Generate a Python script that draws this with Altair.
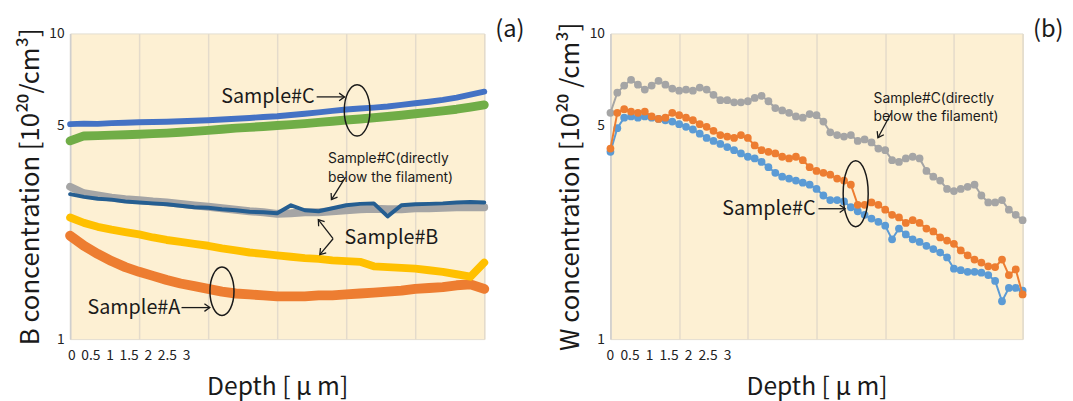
import altair as alt
import pandas as pd

FONT = "Noto Sans CJK JP"
NOTE_FONT = "Inter"
BG = "#FDF0D3"
GRID = "#E4DBCB"
INK = "#1a1a1a"

# ---------------- tick labels / axis values ----------------
x_grid_values = [0, 0.5, 1, 1.5, 2, 2.5, 3]
x_tick_values = [0, 0.5, 1, 1.5, 2, 2.5, 3]
x_tick_labels = ["0", "0.5", "1", "1.5", "2", "2.5", "3"]
y_tick_values = [1, 5, 10]

# ---------------- panel (a): B concentration ----------------
depth_a = [0.0, 0.1, 0.2, 0.3, 0.4, 0.5, 0.6, 0.7, 0.8, 0.9, 1.0, 1.1, 1.2, 1.3, 1.4,
           1.5, 1.6, 1.7, 1.8, 1.9, 2.0, 2.1, 2.2, 2.3, 2.4, 2.5, 2.6, 2.7, 2.8, 2.9, 3.0]
a_sampleC_blue = [5.05, 5.07, 5.06, 5.09, 5.10, 5.12, 5.13, 5.14, 5.16, 5.18, 5.20, 5.23, 5.26, 5.29, 5.33,
                  5.36, 5.41, 5.46, 5.52, 5.58, 5.64, 5.68, 5.72, 5.77, 5.84, 5.91, 5.98, 6.06, 6.17, 6.31, 6.45]
a_sampleC_green = [4.45, 4.62, 4.63, 4.65, 4.66, 4.68, 4.70, 4.72, 4.75, 4.78, 4.82, 4.86, 4.90, 4.93, 4.96,
                   5.00, 5.03, 5.07, 5.12, 5.16, 5.21, 5.25, 5.30, 5.35, 5.40, 5.46, 5.52, 5.58, 5.65, 5.74, 5.84]
a_filament_gray = [3.15, 3.00, 2.95, 2.90, 2.87, 2.85, 2.82, 2.80, 2.77, 2.74, 2.71, 2.68, 2.65, 2.62, 2.60,
                   2.57, 2.58, 2.60, 2.60, 2.62, 2.64, 2.66, 2.67, 2.66, 2.66, 2.68, 2.68, 2.69, 2.70, 2.70, 2.70]
a_filament_navy = [2.98, 2.92, 2.88, 2.86, 2.82, 2.80, 2.78, 2.76, 2.73, 2.70, 2.69, 2.66, 2.64, 2.61, 2.60,
                   2.58, 2.74, 2.64, 2.62, 2.68, 2.74, 2.77, 2.78, 2.52, 2.74, 2.76, 2.77, 2.78, 2.80, 2.81, 2.80]
a_sampleB_yellow = [2.50, 2.40, 2.33, 2.28, 2.24, 2.20, 2.15, 2.11, 2.08, 2.05, 2.02, 1.98, 1.95, 1.92, 1.90,
                    1.88, 1.86, 1.84, 1.83, 1.81, 1.80, 1.79, 1.73, 1.72, 1.71, 1.70, 1.68, 1.66, 1.63, 1.60, 1.78]
a_sampleA_orange = [2.18, 2.02, 1.90, 1.80, 1.72, 1.66, 1.61, 1.56, 1.52, 1.49, 1.46, 1.43, 1.41, 1.40, 1.39,
                    1.38, 1.38, 1.38, 1.39, 1.39, 1.40, 1.41, 1.42, 1.43, 1.44, 1.46, 1.47, 1.48, 1.50, 1.51, 1.46]

# ---------------- panel (b): W concentration ----------------
depth_b = [0.0, 0.05, 0.1, 0.15, 0.2, 0.25, 0.3, 0.35, 0.4, 0.45, 0.5, 0.55, 0.6, 0.65, 0.7, 0.75,
           0.8, 0.85, 0.9, 0.95, 1.0, 1.05, 1.1, 1.15, 1.2, 1.25, 1.3, 1.35, 1.4, 1.45, 1.5, 1.55,
           1.6, 1.65, 1.7, 1.75, 1.8, 1.85, 1.9, 1.95, 2.0, 2.05, 2.1, 2.15, 2.2, 2.25, 2.3, 2.35,
           2.4, 2.45, 2.5, 2.55, 2.6, 2.65, 2.7, 2.75, 2.8, 2.85, 2.9, 2.95, 3.0]
b_filament_gray = [5.5, 6.4, 6.75, 7.05, 6.8, 6.55, 6.75, 7.0, 6.8, 6.6, 6.5, 6.55, 6.5, 6.65, 6.55, 6.3,
                   6.05, 6.05, 5.95, 5.95, 6.0, 6.15, 6.25, 6.0, 5.7, 5.6, 5.5, 5.35, 5.3, 5.45, 5.4, 5.15,
                   4.75, 4.65, 4.6, 4.65, 4.45, 4.5, 4.4, 4.2, 4.15, 3.85, 3.8, 3.9, 3.95, 3.9, 3.55, 3.4,
                   3.3, 3.1, 3.05, 3.1, 3.15, 3.2, 2.95, 2.8, 2.8, 2.85, 2.65, 2.55, 2.45]
b_sampleC_blue = [4.1, 4.9, 5.3, 5.35, 5.3, 5.35, 5.3, 5.25, 5.2, 5.15, 5.05, 4.95, 4.85, 4.7, 4.55, 4.45,
                  4.35, 4.25, 4.15, 4.05, 3.95, 3.9, 3.8, 3.65, 3.5, 3.4, 3.35, 3.3, 3.25, 3.2, 3.1, 2.95,
                  2.85, 2.85, 2.82, 2.7, 2.62, 2.55, 2.48, 2.42, 2.35, 2.12, 2.3, 2.2, 2.12, 2.08, 2.02, 1.97,
                  1.92, 1.85, 1.7, 1.68, 1.66, 1.66, 1.65, 1.62, 1.55, 1.33, 1.47, 1.47, 1.44]
b_sampleC_orange = [4.2, 5.5, 5.65, 5.55, 5.5, 5.55, 5.35, 5.25, 5.3, 5.5, 5.4, 5.3, 5.2, 5.05, 4.95, 4.8,
                    4.65, 4.6, 4.55, 4.65, 4.55, 4.3, 4.15, 4.1, 4.05, 3.95, 3.9, 3.95, 3.85, 3.65, 3.55, 3.5,
                    3.45, 3.35, 3.3, 3.2, 2.75, 2.75, 2.8, 2.75, 2.65, 2.55, 2.5, 2.4, 2.45, 2.4, 2.3, 2.25,
                    2.15, 2.1, 2.05, 1.95, 1.88, 1.82, 1.78, 1.73, 1.72, 1.82, 1.62, 1.69, 1.4]

# series: (name, x, y, colour, line width)
series_a = [
    ("Sample#C (a)", depth_a, a_sampleC_green, "#70AD47", 9),
    ("Sample#C (b)", depth_a, a_sampleC_blue, "#4472C4", 6),
    ("Sample#C filament (a)", depth_a, a_filament_gray, "#A5A5A5", 8),
    ("Sample#C filament (b)", depth_a, a_filament_navy, "#255E91", 4),
    ("Sample#A", depth_a, a_sampleA_orange, "#ED7D31", 10),
    ("Sample#B", depth_a, a_sampleB_yellow, "#FFC000", 8),
]
series_b = [
    ("Sample#C filament", depth_b, b_filament_gray, "#A5A5A5", 2),
    ("Sample#C (b)", depth_b, b_sampleC_blue, "#5B9BD5", 2),
    ("Sample#C (a)", depth_b, b_sampleC_orange, "#ED7D31", 2),
]

# annotations, in data coordinates (depth, concentration)
ann_a = {
    "big_right": [("Sample#C", 1.771, 6.2), ("Sample#A", 0.798, 1.268)],
    "big_left": [("Sample#B", 1.988, 2.14)],
    "small_left": [("Sample#C(directly\nbelow the filament)", 1.869, 3.87)],
    "shafts": [(1.786, 6.2, 1.988, 6.2), (0.807, 1.268, 1.012, 1.268),
               (1.995, 3.39, 1.893, 2.86), (1.905, 2.13, 1.798, 2.46), (1.905, 2.13, 1.809, 1.89)],
    "heads": [(1.988, 6.2, 0), (1.012, 1.268, 0), (1.893, 2.86, 122.3),
              (1.798, 2.46, 232.1), (1.809, 1.89, 130.5)],
    "ellipses": [(2.079, 5.60, 13, 26), (1.10, 1.434, 12.2, 24.5)],
}
ann_b = {
    "big_right": [("Sample#C", 1.493, 2.67)],
    "big_left": [],
    "small_left": [("Sample#C(directly\nbelow the filament)", 1.915, 6.10)],
    "shafts": [(2.044, 5.49, 1.947, 4.56), (1.514, 2.67, 1.708, 2.67)],
    "heads": [(1.947, 4.56, 118.4), (1.708, 2.67, 0)],
    "ellipses": [(1.785, 2.99, 12.7, 33.5)],
}

ARROW_HEAD = "M-1,-0.7L0,0L-1,0.7"
X_TITLE = "Depth [ μ m]"


def ellipse_path(a):
    k = 0.5523
    return (f"M0,-1C{a*k:.4f},-1 {a:.4f},{-k:.4f} {a:.4f},0"
            f"C{a:.4f},{k:.4f} {a*k:.4f},1 0,1"
            f"C{-a*k:.4f},1 {-a:.4f},{k:.4f} {-a:.4f},0"
            f"C{-a:.4f},{-k:.4f} {-a*k:.4f},-1 0,-1Z")


def build_panel(series, style, ytitle, ann, width, height, label_domain, tag):
    xscale = alt.Scale(domain=[0, 3], nice=False, zero=False)
    yscale = alt.Scale(type="log", domain=[1, 10], nice=False)
    xaxis = alt.Axis(values=x_grid_values, grid=True, gridColor=GRID, gridWidth=1.5,
                     labels=False, ticks=False, tickSize=0, domain=False,
                     title=X_TITLE, titleFont=FONT, titleFontSize=25,
                     titleFontWeight="normal", titleColor=INK, titlePadding=36)
    yaxis = alt.Axis(values=y_tick_values, grid=False, ticks=False, tickSize=0,
                     domain=True, domainColor="#CFCFCF", domainWidth=1.5,
                     labelFont=FONT, labelFontSize=14, labelColor="#222222",
                     labelPadding=6, labelFlush=False, labelOverlap=False, format="~g",
                     title=ytitle, titleFont=FONT, titleFontSize=26,
                     titleFontWeight="normal", titleColor=INK, titlePadding=6)
    X = lambda first: alt.X("depth:Q", scale=xscale, axis=xaxis if first else None)
    Y = lambda: alt.Y("conc:Q", scale=yscale, axis=yaxis)

    layers = []
    for i, (name, xs, ys, color, w) in enumerate(series):
        df = pd.DataFrame({"depth": xs, "conc": ys, "series": name})
        if style == "thick":
            m = alt.Chart(df).mark_line(color=color, strokeWidth=w, strokeCap="round",
                                        strokeJoin="round")
        else:
            m = alt.Chart(df).mark_line(color=color, strokeWidth=w,
                                        point=alt.OverlayMarkDef(filled=True, size=62,
                                                                 color=color, opacity=1))
        layers.append(m.encode(x=X(i == 0), y=Y()))

    # arrow shafts
    sh = pd.DataFrame(ann["shafts"], columns=["depth", "conc", "depth2", "conc2"])
    layers.append(alt.Chart(sh).mark_rule(color=INK, strokeWidth=1.3).encode(
        x=X(False), y=Y(), x2="depth2:Q", y2="conc2:Q"))
    # arrow heads
    hd = pd.DataFrame(ann["heads"], columns=["depth", "conc", "ang"])
    layers.append(alt.Chart(hd).mark_point(shape=ARROW_HEAD, filled=False, color=INK,
                                           strokeWidth=1.3, size=120, opacity=1).encode(
        x=X(False), y=Y(), angle=alt.Angle("ang:Q", scale=None)))
    # ellipses
    for (ex, ey, rx, ry) in ann["ellipses"]:
        ed = pd.DataFrame({"depth": [ex], "conc": [ey]})
        layers.append(alt.Chart(ed).mark_point(shape=ellipse_path(rx / ry), filled=False,
                                               color=INK, strokeWidth=1.5, opacity=1,
                                               size=(2 * ry) ** 2).encode(x=X(False), y=Y()))
    # texts
    for key, align, fs, fnt in [("big_right", "right", 20, FONT), ("big_left", "left", 20, FONT),
                                ("small_left", "left", 14, NOTE_FONT)]:
        if not ann[key]:
            continue
        td = pd.DataFrame(ann[key], columns=["t", "depth", "conc"])
        layers.append(alt.Chart(td).mark_text(align=align, baseline="middle", font=fnt,
                                              fontSize=fs, color=INK, lineBreak="\n",
                                              lineHeight=18.5).encode(
            x=X(False), y=Y(), text="t:N"))

    # crowded tick labels under the axis, on a scale of their own
    lab = pd.DataFrame({"v": x_tick_values, "t": x_tick_labels})
    layers.append(alt.Chart(lab).mark_text(font=FONT, fontSize=14, color="#222222",
                                           baseline="middle", align="center").encode(
        x=alt.X("v:Q", scale=alt.Scale(domain=label_domain, nice=False, zero=False), axis=None),
        y=alt.value(height + 17), text="t:N"))

    layers.append(alt.Chart(pd.DataFrame({"t": [tag]})).mark_text(
        font=FONT, fontSize=24, color=INK, align="center", baseline="middle").encode(
        x=alt.value(width + 26), y=alt.value(-3), text="t:N"))

    return alt.layer(*layers).resolve_scale(x="independent").properties(
        width=width, height=height)


panel_a = build_panel(series_a, "thick", "B concentration [10²⁰/cm³]", ann_a,
                      420, 310, [-0.044, 10.78], "(a)")
panel_b = build_panel(series_b, "dots", "W concentration [10²⁰ /cm³]", ann_b,
                      418, 310, [0.0, 10.56], "(b)")

chart = alt.hconcat(panel_a, panel_b, spacing=128, bounds="flush").properties(
    padding={"left": 8, "top": 7, "right": 0, "bottom": 0}
).configure(font=FONT).configure_view(fill=BG, stroke="#E3DDD0", strokeWidth=1)

chart.save("out.html", embed_options={"renderer": "svg", "actions": False})
